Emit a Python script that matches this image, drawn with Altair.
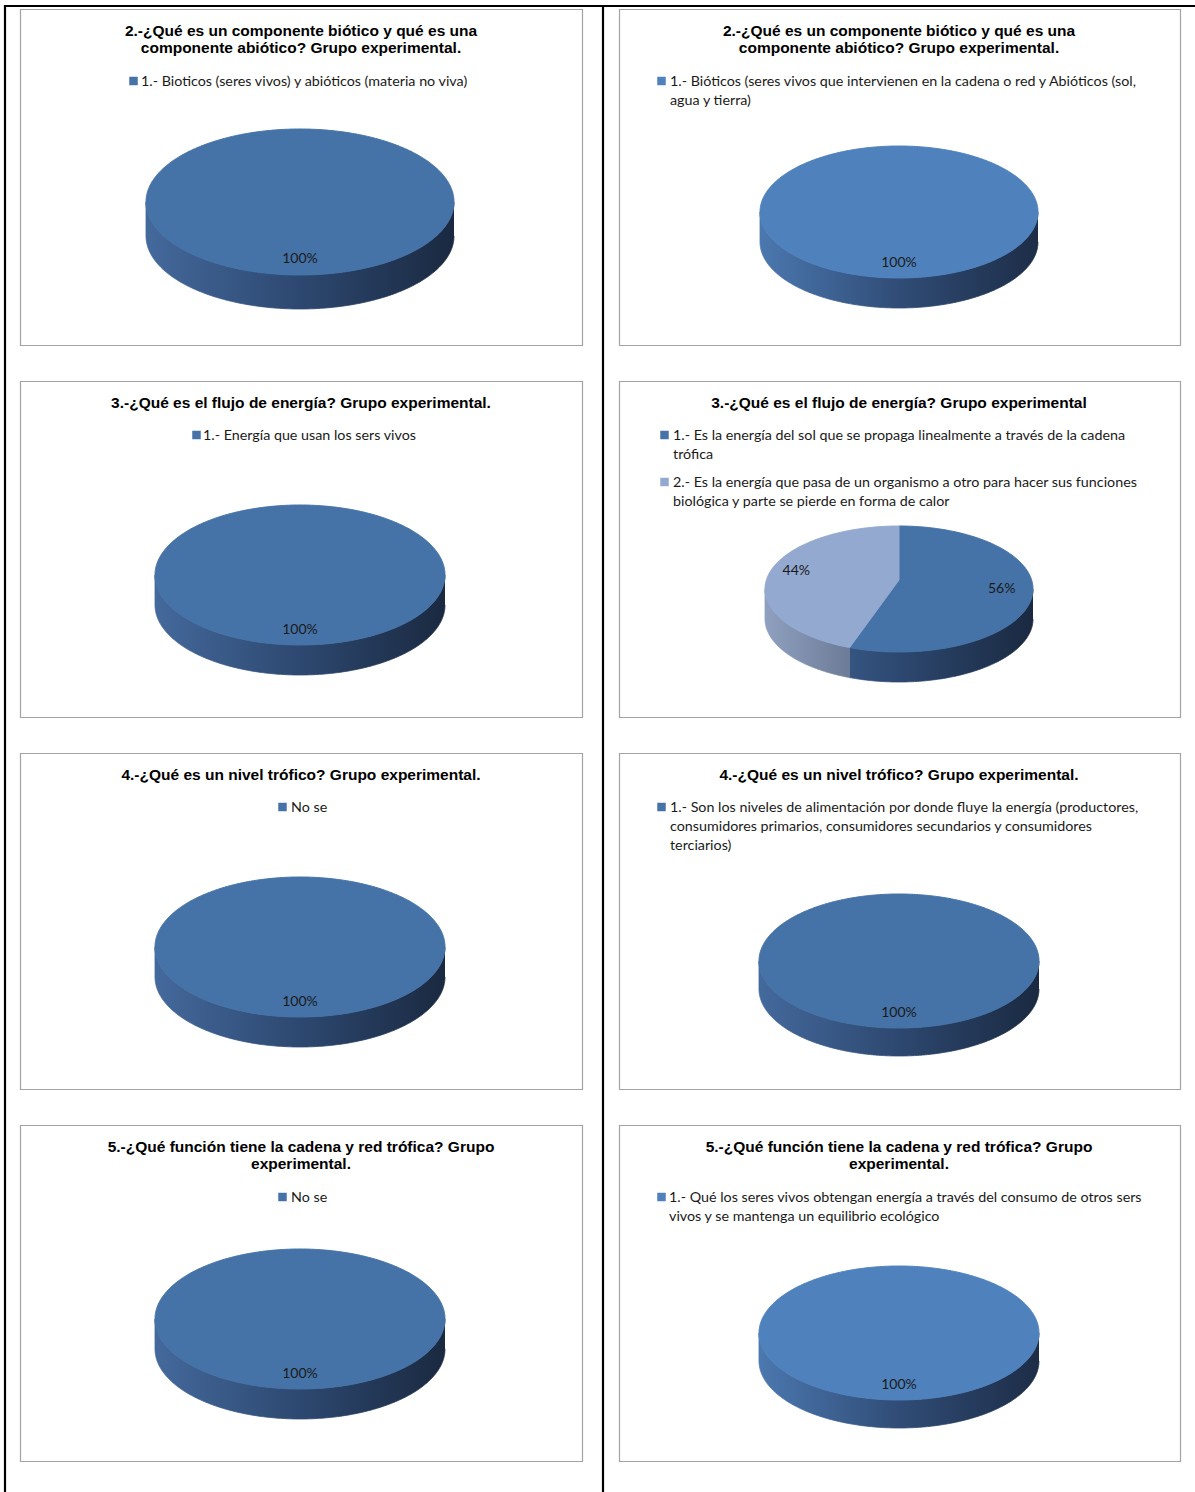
import numpy as np
import pandas as pd
import altair as alt

W, H = 1195, 1492

# ---------------- chart content ----------------
titles = [
    ["2.-¿Qué es un componente biótico y qué es una", "componente abiótico? Grupo experimental."],
    ["2.-¿Qué es un componente biótico y qué es una", "componente abiótico? Grupo experimental."],
    ["3.-¿Qué es el flujo de energía? Grupo experimental."],
    ["3.-¿Qué es el flujo de energía? Grupo experimental"],
    ["4.-¿Qué es un nivel trófico? Grupo experimental."],
    ["4.-¿Qué es un nivel trófico? Grupo experimental."],
    ["5.-¿Qué función tiene la cadena  y red trófica? Grupo", "experimental."],
    ["5.-¿Qué función tiene la cadena  y red trófica? Grupo", "experimental."],
]

legend_labels = [
    [["1.- Bioticos (seres vivos) y abióticos (materia no viva)"]],
    [["1.- Bióticos (seres vivos que intervienen en la cadena o red  y Abióticos (sol,",
      "agua y tierra)"]],
    [["1.- Energía que usan los sers vivos"]],
    [["1.- Es la energía del sol que se propaga linealmente a través de la cadena",
      "trófica"],
     ["2.- Es la energía que pasa de un organismo  a otro para hacer sus funciones",
      "biológica y parte se pierde en forma de calor"]],
    [["No se"]],
    [["1.- Son los niveles de alimentación por donde fluye la energía (productores,",
      "consumidores primarios, consumidores secundarios y consumidores",
      "terciarios)"]],
    [["No se"]],
    [["1.- Qué los seres vivos obtengan energía a través del consumo de otros sers",
      "vivos y se mantenga  un equilibrio ecológico"]],
]

# percentage of answers per option, per panel
shares = [[100], [100], [100], [56, 44], [100], [100], [100], [100]]

# ---------------- styling ----------------
DARK = "#4572A7"
BRIGHT = "#4F81BD"
LIGHT = "#93A9CF"
slice_colors = [[DARK], [BRIGHT], [DARK], [DARK, LIGHT], [DARK], [DARK], [DARK], [BRIGHT]]

# side-wall shading across the full pie width (offset, colour)
side_shades = {
    DARK: [(0, "#44699C"), (0.5, "#2D4870"), (1, "#1A2940")],
    BRIGHT: [(0, "#4B78AF"), (0.5, "#304C76"), (1, "#1D2D47")],
    LIGHT: [(0, "#8FA0C0"), (0.3, "#6E7D99"), (1, "#4A556A")],
}

TITLE_FONT = "Liberation Sans"
BODY_FONT = "Lato"

# panel frames
col_x = [(20.5, 582.5), (619.5, 1180.5)]
row_y0, row_step, box_h = 9.5, 372, 336

# pie geometry per panel: centre x, centre y, radius x, radius y, depth,
# and how far the apex of the slices sits above the ellipse centre
pie_geom = [
    (300, 202, 154, 73, 34, 0),
    (899, 212, 139, 66, 30, 0),
    (300, 575, 145, 70, 30, 0),
    (899, 589, 134, 63, 30, 9),
    (300, 947, 145, 70, 30, 0),
    (899, 961, 140, 67, 28, 0),
    (300, 1319, 145, 70, 30, 0),
    (899, 1333, 140, 67, 28, 0),
]
LABEL_R = 0.78

title_pos = [(301, 31), (899, 31), (301, 403), (899, 403),
             (301, 775), (899, 775), (301, 1147), (899, 1147)]
TITLE_LH = 17

# legend: swatch centre x, text start x, first-line y of each entry
legend_pos = [
    (133.5, 141, [82]),
    (661.5, 670, [82]),
    (196.5, 203, [436]),
    (664.5, 673, [436, 483]),
    (282.5, 291, [808]),
    (661.5, 670, [808]),
    (282.5, 291, [1198]),
    (661.5, 669, [1198]),
]
LEG_LH = 19

# ---------------- geometry tables ----------------
xs = alt.Scale(domain=[0, W], nice=False, zero=False)
ys = alt.Scale(domain=[0, H], nice=False, zero=False, reverse=True)
X = lambda f="x": alt.X(f"{f}:Q", scale=xs, axis=None)
Y = lambda f="y": alt.Y(f"{f}:Q", scale=ys, axis=None)


def arc(cx, cy, rx, ry, a0, a1):
    n = max(4, int(abs(a1 - a0) * 1.5))
    t = np.radians(np.linspace(a0, a1, n))
    return cx + rx * np.sin(t), cy - ry * np.cos(t)


frames = pd.DataFrame(
    [dict(x=col_x[c][0], x2=col_x[c][1], y=row_y0 + r * row_step, y2=row_y0 + r * row_step + box_h)
     for r in range(4) for c in range(2)]
)
table_lines = pd.DataFrame([
    dict(x=4, x2=W, y=6, y2=6),
    dict(x=5, x2=5, y=5, y2=H),
    dict(x=603, x2=603, y=5, y2=H),
])

layers = [
    alt.Chart(frames).mark_rect(fill="white", stroke="#A3A3A3", strokeWidth=1.2).encode(
        x=X(), x2="x2", y=Y(), y2="y2"),
    alt.Chart(table_lines).mark_rule(color="black", strokeWidth=2.2).encode(
        x=X(), x2="x2", y=Y(), y2="y2"),
]

side_layers, top_layers = [], []
label_rows = []
for p, (vals, cols, (cx, cy, rx, ry, d, lift)) in enumerate(zip(shares, slice_colors, pie_geom)):
    start = 0.0
    apex_y = cy - lift
    for s, (v, col) in enumerate(zip(vals, cols)):
        a0, a1 = start, start + v * 3.6
        start = a1
        # top face
        if v >= 100:
            tx, ty = arc(cx, cy, rx, ry, 0, 360)
        else:
            ax_, ay_ = arc(cx, cy, rx, ry, a0, a1)
            tx = np.concatenate([[cx], ax_, [cx]])
            ty = np.concatenate([[apex_y], ay_, [apex_y]])
        top = pd.DataFrame({"x": tx, "y": ty, "k": np.arange(len(tx))})
        top_layers.append(
            alt.Chart(top).mark_line(fill=col, stroke=col, strokeWidth=1, interpolate="linear")
            .encode(x=X(), y=Y(), order="k:Q"))
        # visible front wall (between 90° and 270°)
        s0, s1 = max(a0, 90), min(a1, 270)
        if s1 > s0:
            fx, fy = arc(cx, cy, rx, ry, s0, s1)
            wx = np.concatenate([fx, fx[::-1]])
            wy = np.concatenate([fy, fy[::-1] + d])
            side = pd.DataFrame({"x": wx, "y": wy, "k": np.arange(len(wx))})
            fa = (wx.min() - (cx - rx)) / (2 * rx)
            fb = (wx.max() - (cx - rx)) / (2 * rx)
            span = fb - fa
            grad = alt.LinearGradient(
                gradient="linear",
                x1=-fa / span, x2=(1 - fa) / span, y1=0, y2=0,
                stops=[alt.GradientStop(offset=o, color=c) for o, c in side_shades[col]],
            )
            side_layers.append(
                alt.Chart(side).mark_line(fill=grad, stroke=grad, strokeWidth=0.8, interpolate="linear")
                .encode(x=X(), y=Y(), order="k:Q"))
        mid = np.radians((a0 + a1) / 2)
        label_rows.append(dict(x=cx + LABEL_R * rx * np.sin(mid),
                               y=apex_y - LABEL_R * ry * np.cos(mid),
                               t=f"{v}%"))

layers += side_layers + top_layers

pct = pd.DataFrame(label_rows)
layers.append(
    alt.Chart(pct).mark_text(font=BODY_FONT, fontSize=14, color="#1A1A1A", baseline="middle")
    .encode(x=X(), y=Y(), text="t:N"))

title_df = pd.DataFrame([
    dict(x=tx, y=ty + i * TITLE_LH, t=line)
    for (tx, ty), lines in zip(title_pos, titles) for i, line in enumerate(lines)
])
layers.append(
    alt.Chart(title_df).mark_text(font=TITLE_FONT, fontSize=15.5, fontWeight="bold", color="black",
                                  baseline="middle", align="center")
    .encode(x=X(), y=Y(), text="t:N"))

sw_rows, lg_rows = [], []
for (sx, tx, ys0), entries, cols in zip(legend_pos, legend_labels, slice_colors):
    for y0, lines, col in zip(ys0, entries, cols):
        sw_rows.append(dict(x=sx, y=y0 - 1, c=col))
        for i, line in enumerate(lines):
            lg_rows.append(dict(x=tx, y=y0 + i * LEG_LH, t=line))

layers.append(
    alt.Chart(pd.DataFrame(sw_rows)).mark_point(shape="square", filled=True, size=72, opacity=1)
    .encode(x=X(), y=Y(), color=alt.Color("c:N", scale=None)))
layers.append(
    alt.Chart(pd.DataFrame(lg_rows)).mark_text(font=BODY_FONT, fontSize=14.3, color="#1A1A1A",
                                               baseline="middle", align="left")
    .encode(x=X(), y=Y(), text="t:N"))

chart = alt.layer(*layers).properties(
    width=W, height=H, padding=0, background="white",
    autosize=alt.AutoSizeParams(type="none"),
).configure_view(stroke="transparent")

chart.save("out.html", embed_options={"renderer": "svg", "actions": False})
